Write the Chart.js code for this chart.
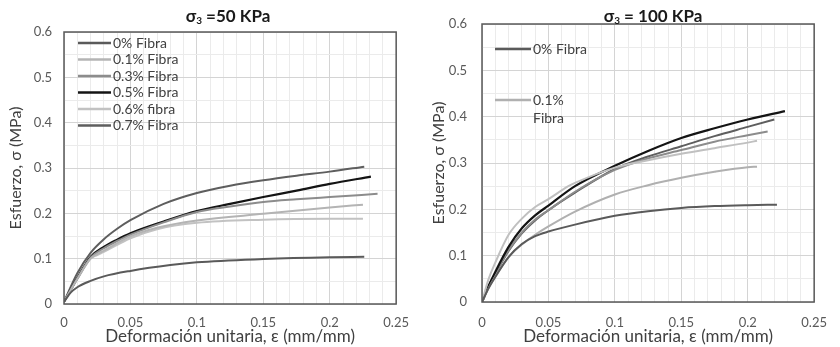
<!DOCTYPE html>
<html><head><meta charset="utf-8">
<script src="https://cdn.jsdelivr.net/npm/chart.js@4.4.0/dist/chart.umd.min.js"></script>
<style>
html,body{margin:0;padding:0;background:#fff;width:840px;height:347px;overflow:hidden}
.box{position:absolute;top:0;width:420px;height:347px}
canvas{display:block}
</style></head><body>
<div class="box" style="left:0"><canvas id="c1" width="420" height="347"></canvas></div>
<div class="box" style="left:420px"><canvas id="c2" width="420" height="347"></canvas></div>
<script>
// ---------- DATA ----------
const xTicks = [0, 0.05, 0.1, 0.15, 0.2, 0.25];
const yTicks = [0, 0.1, 0.2, 0.3, 0.4, 0.5, 0.6];
const labels = ["0% Fibra", "0.1% Fibra", "0.3% Fibra", "0.5% Fibra", "0.6% fibra", "0.7% Fibra"];

// sigma3 = 50 KPa
const a_x0  = [0, 0.005, 0.01, 0.02, 0.03, 0.05, 0.08, 0.1, 0.15, 0.2, 0.226];
const a_y0  = [0.005, 0.025, 0.037, 0.051, 0.061, 0.073, 0.086, 0.092, 0.099, 0.103, 0.104];
const a_x01 = [0, 0.01, 0.02, 0.025, 0.03, 0.05, 0.07, 0.1, 0.15, 0.2, 0.225];
const a_y01 = [0.005, 0.055, 0.1, 0.11, 0.118, 0.149, 0.168, 0.184, 0.199, 0.213, 0.219];
const a_x03 = [0, 0.01, 0.02, 0.03, 0.04, 0.05, 0.075, 0.1, 0.125, 0.15, 0.175, 0.2, 0.236];
const a_y03 = [0.005, 0.056, 0.102, 0.123, 0.139, 0.153, 0.18, 0.203, 0.215, 0.225, 0.231, 0.236, 0.243];
const a_x05 = [0, 0.01, 0.02, 0.03, 0.04, 0.05, 0.075, 0.1, 0.125, 0.15, 0.175, 0.2, 0.231];
const a_y05 = [0.005, 0.057, 0.104, 0.126, 0.142, 0.156, 0.182, 0.205, 0.221, 0.236, 0.25, 0.265, 0.281];
const a_x06 = [0, 0.01, 0.02, 0.025, 0.03, 0.05, 0.07, 0.1, 0.15, 0.2, 0.225];
const a_y06 = [0.005, 0.055, 0.1, 0.108, 0.115, 0.145, 0.165, 0.179, 0.186, 0.188, 0.188];
const a_x07 = [0, 0.01, 0.02, 0.03, 0.04, 0.05, 0.075, 0.1, 0.125, 0.15, 0.175, 0.2, 0.226];
const a_y07 = [0.005, 0.068, 0.113, 0.143, 0.166, 0.185, 0.221, 0.245, 0.261, 0.273, 0.283, 0.292, 0.303];

// sigma3 = 100 KPa
const b_x0  = [0, 0.005, 0.01, 0.02, 0.03, 0.04, 0.05, 0.07, 0.1, 0.125, 0.15, 0.175, 0.2, 0.222];
const b_y0  = [0, 0.03, 0.054, 0.097, 0.125, 0.142, 0.152, 0.167, 0.186, 0.196, 0.203, 0.207, 0.209, 0.21];
const b_x01 = [0, 0.005, 0.01, 0.02, 0.03, 0.04, 0.05, 0.07, 0.1, 0.125, 0.15, 0.175, 0.2, 0.207];
const b_y01 = [0, 0.03, 0.055, 0.097, 0.124, 0.145, 0.163, 0.195, 0.232, 0.252, 0.268, 0.281, 0.291, 0.292];
const b_x03 = [0, 0.005, 0.01, 0.02, 0.03, 0.04, 0.05, 0.065, 0.07, 0.1, 0.125, 0.15, 0.175, 0.2, 0.207];
const b_y03 = [0, 0.05, 0.085, 0.145, 0.18, 0.205, 0.222, 0.25, 0.257, 0.29, 0.306, 0.32, 0.332, 0.344, 0.348];
const b_x05 = [0, 0.005, 0.01, 0.02, 0.03, 0.04, 0.05, 0.07, 0.1, 0.125, 0.15, 0.175, 0.2, 0.228];
const b_y05 = [0, 0.035, 0.065, 0.119, 0.159, 0.187, 0.208, 0.25, 0.294, 0.326, 0.354, 0.375, 0.394, 0.412];
const b_x06 = [0, 0.005, 0.01, 0.02, 0.03, 0.04, 0.05, 0.07, 0.1, 0.125, 0.15, 0.175, 0.2, 0.215];
const b_y06 = [0, 0.035, 0.062, 0.112, 0.15, 0.178, 0.198, 0.238, 0.285, 0.31, 0.328, 0.346, 0.36, 0.368];
const b_x07 = [0, 0.005, 0.01, 0.02, 0.03, 0.04, 0.05, 0.07, 0.1, 0.125, 0.15, 0.175, 0.2, 0.22];
const b_y07 = [0, 0.033, 0.06, 0.11, 0.148, 0.176, 0.198, 0.236, 0.287, 0.314, 0.336, 0.358, 0.378, 0.394];

// ---------- CHART ----------
const FONT = "Lato, 'DejaVu Sans', sans-serif";
const colors = ['#5a5a5a', '#b4b4b4', '#8c8c8c', '#141414', '#c2c2c2', '#5e5e5e'];
const colorsB = ['#5a5a5a', '#b0b0b0', '#c0c0c0', '#141414', '#8c8c8c', '#5e5e5e'];

function pts(xs, ys) { return xs.map((x, i) => ({x: x, y: ys[i]})); }
function fmt(v) { return String(+v.toFixed(2)); }

function mkDatasets(series, cols) {
  return series.map((s, i) => ({
    label: labels[i],
    data: pts(s[0], s[1]),
    borderColor: cols[i],
    backgroundColor: cols[i],
    borderWidth: i === 3 ? 2.2 : 2,
    pointRadius: 0,
    fill: false,
    cubicInterpolationMode: 'monotone'
  }));
}

const deco = {
  id: 'deco',
  afterDraw(chart, args, o) {
    const ctx = chart.ctx, ca = chart.chartArea;
    ctx.save();
    ctx.strokeStyle = '#595959';
    ctx.lineWidth = 1.5;
    ctx.strokeRect(ca.left, ca.top, ca.right - ca.left, ca.bottom - ca.top);
    // title with subscript
    ctx.fillStyle = '#1a1a1a';
    ctx.textBaseline = 'middle';
    ctx.textAlign = 'left';
    ctx.font = 'bold 17px ' + FONT;
    const w1 = ctx.measureText('σ').width;
    const w3 = ctx.measureText(o.titleRest).width;
    ctx.font = 'bold 10px ' + FONT;
    const w2 = ctx.measureText('3').width;
    let x = o.titleX - (w1 + w2 + w3) / 2;
    ctx.font = 'bold 17px ' + FONT;
    ctx.fillText('σ', x, o.titleY);
    ctx.font = 'bold 10px ' + FONT;
    ctx.fillText('3', x + w1, o.titleY + 4);
    ctx.font = 'bold 17px ' + FONT;
    ctx.fillText(o.titleRest, x + w1 + w2, o.titleY);
    // legend
    ctx.font = '14px ' + FONT;
    ctx.fillStyle = '#404040';
    o.legend.forEach(e => {
      const ds = chart.data.datasets[e.i];
      ctx.strokeStyle = ds.borderColor;
      ctx.lineWidth = ds.borderWidth + 0.5;
      ctx.beginPath();
      ctx.moveTo(e.x0, e.y); ctx.lineTo(e.x1, e.y); ctx.stroke();
      const lines = e.lines || [ds.label];
      lines.forEach((t, k) => ctx.fillText(t, e.x1 + 2, e.y + k * 18));
    });
    ctx.restore();
  }
};

function mkChart(id, datasets, L) {
  return new Chart(document.getElementById(id), {
    type: 'line',
    data: {datasets: datasets},
    plugins: [deco],
    options: {
      responsive: false, animation: false, devicePixelRatio: 1,
      layout: {padding: {left: 0, right: L.padRight, top: L.padTop, bottom: 0}},
      plugins: {
        legend: {display: false}, tooltip: {enabled: false}, title: {display: false},
        deco: L.deco
      },
      scales: {
        x: {
          type: 'linear', min: xTicks[0], max: xTicks[xTicks.length - 1],
          afterFit: s => { s.height = L.xH; },
          ticks: {
            stepSize: 0.01, autoSkip: false, maxRotation: 0, padding: L.xTickPad,
            color: '#595959', font: {family: FONT, size: 13},
            callback: v => (xTicks.some(t => Math.abs(t - v) < 1e-6) ? fmt(v) : '')
          },
          grid: {
            drawTicks: false, lineWidth: 1,
            color: c => (xTicks.some(t => Math.abs(t - c.tick.value) < 1e-6) ? '#d4d4d4' : '#ebebeb')
          },
          border: {display: false},
          title: {display: true, text: 'Deformación unitaria, ε (mm/mm)', color: '#404040',
                  font: {family: FONT, size: 17}, padding: {top: 0, bottom: L.xTitlePad}}
        },
        y: {
          min: yTicks[0], max: yTicks[yTicks.length - 1],
          afterFit: s => { s.width = L.yW; },
          ticks: {
            stepSize: 0.05, autoSkip: false, padding: L.yTickPad,
            color: '#595959', font: {family: FONT, size: 13},
            callback: v => (yTicks.some(t => Math.abs(t - v) < 1e-6) ? fmt(v) : '')
          },
          grid: {
            drawTicks: false, lineWidth: 1,
            color: c => (yTicks.some(t => Math.abs(t - c.tick.value) < 1e-6) ? '#d4d4d4' : '#ebebeb')
          },
          border: {display: false},
          title: {display: true, text: 'Esfuerzo, σ (MPa)', color: '#404040',
                  font: {family: FONT, size: 16}, padding: {top: L.yTitlePad, bottom: 0}}
        }
      }
    }
  });
}

const dsA = mkDatasets([[a_x0, a_y0], [a_x01, a_y01], [a_x03, a_y03], [a_x05, a_y05], [a_x06, a_y06], [a_x07, a_y07]], colors);
const dsB = mkDatasets([[b_x0, b_y0], [b_x01, b_y01], [b_x03, b_y03], [b_x05, b_y05], [b_x06, b_y06], [b_x07, b_y07]], colorsB);

mkChart('c1', dsA, {
  padRight: 21, padTop: 32, xH: 43, yW: 64, xTickPad: 11, yTickPad: 12, xTitlePad: 0, yTitlePad: 6,
  deco: {
    titleX: 228, titleY: 17, titleRest: ' =50 KPa',
    legend: [0, 1, 2, 3, 4, 5].map(i => ({i: i, x0: 78, x1: 111, y: 43 + i * 16.5}))
  }
});
mkChart('c2', dsB, {
  padRight: 18, padTop: 24, xH: 45, yW: 62, xTickPad: 13, yTickPad: 15, xTitlePad: 0, yTitlePad: 9,
  deco: {
    titleX: 233, titleY: 17, titleRest: ' = 100 KPa',
    legend: [
      {i: 0, x0: 75, x1: 111, y: 49},
      {i: 1, x0: 75, x1: 111, y: 100, lines: ['0.1%', 'Fibra']}
    ]
  }
});
</script>
</body></html>
